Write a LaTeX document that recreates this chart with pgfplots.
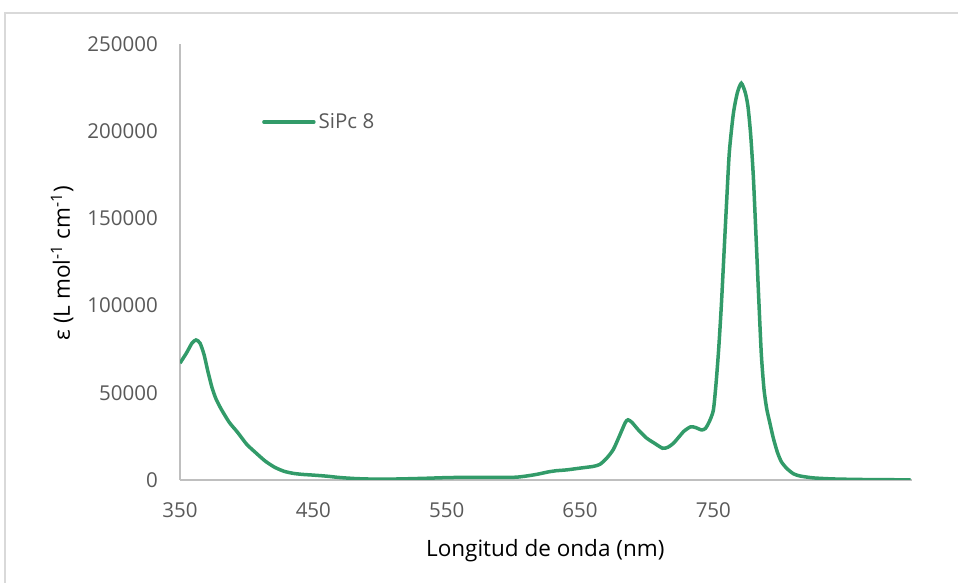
\documentclass[border=0pt]{standalone}
\usepackage{pgfplots}
\pgfplotsset{compat=1.18}
\usepackage{fontspec}
\setmainfont{Open Sans}
\definecolor{curve}{RGB}{50,155,105}
\definecolor{txt}{RGB}{89,89,89}
\definecolor{axl}{RGB}{191,191,191}
\definecolor{frame}{RGB}{217,217,217}
\newcommand{\lf}{\fontsize{22.5}{27}\selectfont}
\begin{document}
\begin{tikzpicture}[x=1pt,y=1pt]
\useasboundingbox (0,0) rectangle (958,583);
\draw[frame, line width=1.5pt] (5,-20) -- (5,570) -- (990,570);
\begin{axis}[
  at={(180pt,103pt)}, anchor=south west,
  scale only axis, width=732pt, height=436pt,
  xmin=350, xmax=899, ymin=0, ymax=250000,
  axis x line=bottom, axis y line=left,
  axis line style={axl, line width=1.3pt, -},
  xtick={350,450,550,650,750},
  ytick={0,50000,100000,150000,200000,250000},
  major tick length=0pt,
  scaled y ticks=false,
  font=\fontsize{20.5}{25}\selectfont,
  tick label style={txt},
  /pgf/number format/assume math mode=true,
  /pgf/number format/.cd, fixed, set thousands separator={}, /pgfplots/.cd,
  xticklabel style={anchor=north, inner sep=0pt, yshift=-22pt},
  yticklabel style={anchor=east, inner sep=0pt, xshift=-22pt},
  xlabel={\lf Longitud de onda (nm)},
  ylabel={\lf ε (L mol\textsuperscript{-1} cm\textsuperscript{-1})},
  label style={txt},
  every axis x label/.style={at={(axis description cs:0.499,-0.161)}, anchor=center},
  every axis y label/.style={at={(axis description cs:-0.161,0.497)}, anchor=center, rotate=90},
  legend style={at={(0.112,0.821)}, anchor=west, draw=none, fill=none, inner sep=0pt,
    font=\fontsize{20.5}{25}\selectfont, text=txt, nodes={inner sep=3pt}},
  legend image code/.code={\draw[#1, line width=3.5pt, line cap=round] (0pt,0pt) -- (50pt,0pt);},
]
\addplot[curve, line width=3.5pt, smooth, tension=0.4] coordinates {
(350,67000) (355,73000) (359,78500) (362,80300) (365,78500) (368,72000)
(371,62000) (374,53000) (377,46500) (381,40500) (387,33000) (393,27500)
(400,20500) (407,15500) (414,10800) (421,7300) (428,5000) (435,3800)
(442,3200) (450,2800) (460,2200) (470,1400) (482,800) (495,500)
(507,500) (520,700) (535,1000) (552,1400) (570,1500) (590,1500)
(602,1600) (610,2300) (618,3300) (626,4600) (632,5300) (640,5800)
(652,7000) (660,7800) (665,9000) (670,12500) (675,17500) (680,26000)
(684,33000) (686,34500) (689,33000) (694,28500) (700,24000) (706,21000)
(712,18200) (716,18800) (720,21000) (724,24500) (728,28000) (733,30500)
(737,30000) (741,28700) (744,29500) (747,33500) (750,40000) (752,55000)
(754,75000) (756,100000) (758,130000) (760,160000) (762,188000) (765,210000)
(768,222000) (771,227500) (774,222000) (776,214000) (778,198000) (780,174000)
(782,140000) (784,105000) (786,72000) (788,52000) (790,41000) (792,34000)
(795,24000) (798,16000) (801,10500) (805,6700) (810,3600) (815,2300)
(825,1200) (840,600) (860,300) (880,200) (898,0)
};
\addlegendentry{SiPc 8}
\end{axis}
\end{tikzpicture}
\end{document}
